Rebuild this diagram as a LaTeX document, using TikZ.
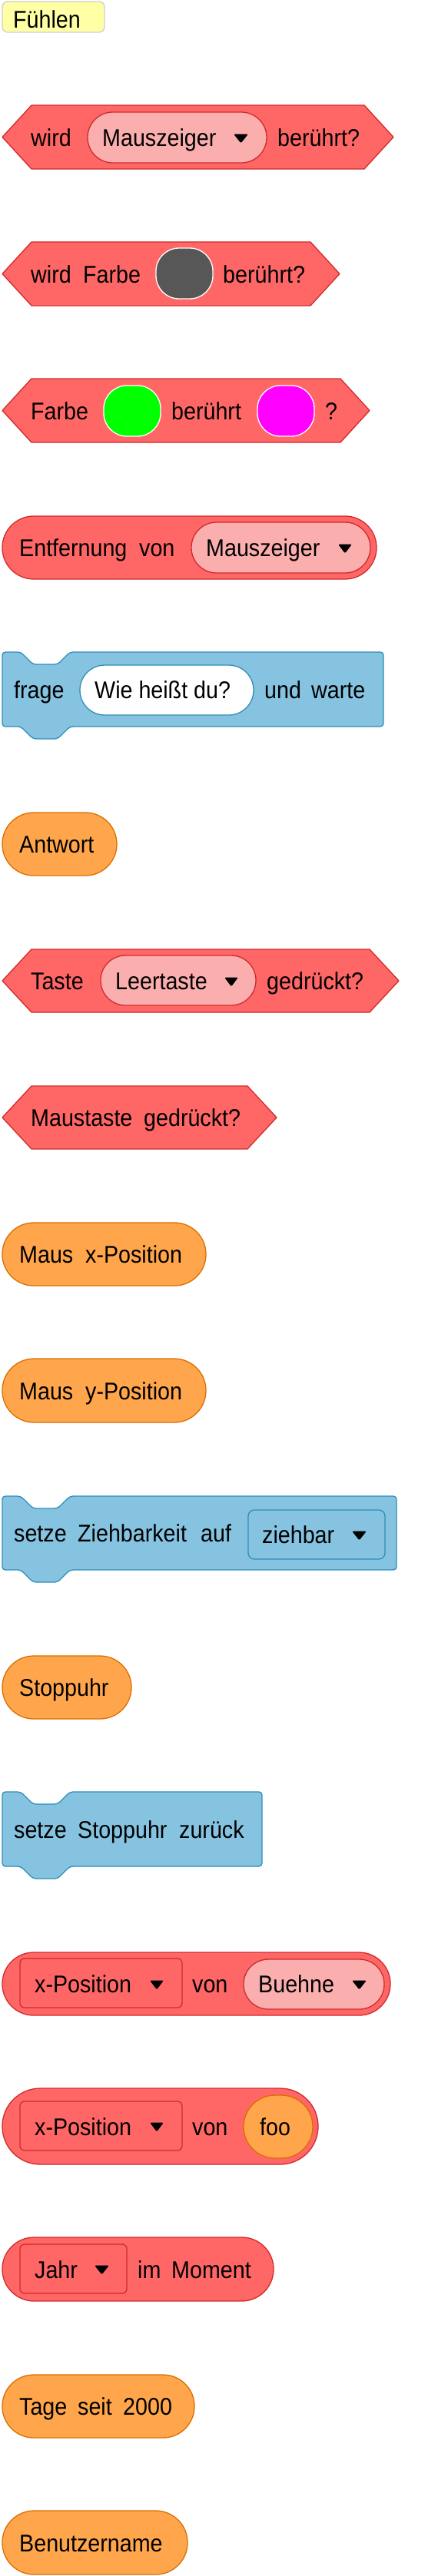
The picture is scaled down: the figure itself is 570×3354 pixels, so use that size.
\documentclass[tikz,border=0pt]{standalone}
\usepackage{fontspec}
\setmainfont[FakeStretch=0.91]{Liberation Sans}
\newcommand\blk{\fontsize{31.5}{36}\selectfont}
\definecolor{redfill}{HTML}{FF6666}
\definecolor{redline}{HTML}{D12B2B}
\definecolor{pinkfill}{HTML}{FBAEAE}
\definecolor{bluefill}{HTML}{85C3E0}
\definecolor{blueline}{HTML}{2E8EB8}
\definecolor{orangefill}{HTML}{FFA64C}
\definecolor{orangeline}{HTML}{DB6E00}
\definecolor{yellowfill}{HTML}{FFFFA5}
\definecolor{greyline}{HTML}{CFCFCF}
\definecolor{darkoval}{HTML}{575757}
\definecolor{puregreen}{HTML}{00FF00}
\definecolor{puremagenta}{HTML}{FF00FF}
\tikzset{
  redblk/.style={fill=redfill, draw=redline, line width=1.3pt, line join=round},
  pinkin/.style={fill=pinkfill, draw=redline, line width=1.3pt},
  redin/.style={fill=redfill, draw=redline, line width=1.3pt},
  blueblk/.style={fill=bluefill, draw=blueline, line width=1.3pt},
  bluein/.style={fill=bluefill, draw=blueline, line width=1.3pt},
  whitein/.style={fill=white, draw=blueline, line width=1.3pt},
  orangeblk/.style={fill=orangefill, draw=orangeline, line width=1.3pt},
  colorin/.style={draw=white, line width=1.3pt},
  catbox/.style={fill=yellowfill, draw=greyline, line width=1.3pt},
  lbl/.style={anchor=base west, inner sep=0pt, font=\blk},
  ddarrow/.style={fill=black, rounded corners=1.5pt},
}
% boolean hexagon: x0 x1 top bottom
\newcommand\hexblk[4]{\draw[redblk] (#1,{(#3+#4)/2}) -- (#1+38,#3) -- (#2-38,#3) -- (#2,{(#3+#4)/2}) -- (#2-38,#4) -- (#1+38,#4) -- cycle;}
% rounded box: style x0 x1 top bottom radius
\newcommand\rbox[6]{\draw[#1, rounded corners=#6pt] (#2,#4) rectangle (#3,#5);}
% command block: x0 x1 top bottom
\newcommand\cmdblk[4]{\draw[blueblk, rounded corners=4pt] (#1,#3) -- (#1+24,#3) -- (#1+40,#3+16) -- (#1+72,#3+16) -- (#1+88,#3) -- (#2,#3) -- (#2,#4) -- (#1+88,#4) -- (#1+72,#4+16) -- (#1+40,#4+16) -- (#1+24,#4) -- (#1,#4) -- cycle;}
% dropdown arrow: xL xR centre
\newcommand\ddtri[3]{\fill[ddarrow] (#1,#3-4.5) -- (#2,#3-4.5) -- ({(#1+#2)/2},#3+7.5) -- cycle;}
\begin{document}
\begin{tikzpicture}[x=1pt,y=-1pt]
\useasboundingbox (0,0) rectangle (570,3354);

% Fühlen
\rbox{catbox}{3}{136}{2}{42}{7}
\node[lbl] (fuehlen) at (17,36) {Fühlen};

% wird Mauszeiger berührt?
\hexblk{3}{512}{137}{220}
\rbox{pinkin}{114}{347}{146}{212}{32.8}
\node[lbl] (b1a) at (40,190) {wird};
\node[lbl] (b1b) at (133,190) {Mauszeiger};
\ddtri{304}{323}{179}
\node[lbl] (b1c) at (361,190) {berührt?};

% wird Farbe () berührt?
\hexblk{3}{442}{315}{398}
\rbox{colorin, fill=darkoval}{203}{277}{323}{389}{30}
\node[lbl] (b2a) at (40,368) {wird};
\node[lbl] (b2b) at (108,368) {Farbe};
\node[lbl] (b2c) at (290,368) {berührt?};

% Farbe () berührt () ?
\hexblk{3}{481}{493}{576}
\rbox{colorin, fill=puregreen}{135}{209}{502}{568}{30}
\rbox{colorin, fill=puremagenta}{335}{409}{502}{568}{30}
\node[lbl] (b3a) at (40,546) {Farbe};
\node[lbl] (b3b) at (223,546) {berührt};
\node[lbl] (b3c) at (423,546) {?};

% Entfernung von Mauszeiger
\rbox{redblk}{3}{490}{672}{754}{40.8}
\rbox{pinkin}{249}{482}{680}{746}{32.8}
\node[lbl] (b4a) at (25,724.5) {Entfernung};
\node[lbl] (b4b) at (181,724.5) {von};
\node[lbl] (b4c) at (268,724.5) {Mauszeiger};
\ddtri{440}{458}{713}

% frage () und warte
\cmdblk{3}{499}{849}{946}
\rbox{whitein}{104}{330}{866}{931}{32.3}
\node[lbl] (b5a) at (18,909) {frage};
\node[lbl] (b5b) at (123,909) {Wie heißt du?};
\node[lbl] (b5c) at (344,909) {und};
\node[lbl] (b5d) at (405,909) {warte};

% Antwort
\rbox{orangeblk}{3}{152}{1058}{1140}{40.8}
\node[lbl] (b6a) at (25,1110.5) {Antwort};

% Taste Leertaste gedrückt?
\hexblk{3}{519}{1236}{1318}
\rbox{pinkin}{131}{333}{1244}{1309}{32.3}
\node[lbl] (b7a) at (40,1288.5) {Taste};
\node[lbl] (b7b) at (150,1288.5) {Leertaste};
\ddtri{292}{310}{1277}
\node[lbl] (b7c) at (347,1288.5) {gedrückt?};

% Maustaste gedrückt?
\hexblk{3}{360}{1414}{1496}
\node[lbl] (b8a) at (40,1466.5) {Maustaste};
\node[lbl] (b8b) at (187,1466.5) {gedrückt?};

% Maus x-Position
\rbox{orangeblk}{3}{268}{1592}{1674}{40.8}
\node[lbl] (b9a) at (25,1644.5) {Maus};
\node[lbl] (b9b) at (111,1644.5) {x-Position};

% Maus y-Position
\rbox{orangeblk}{3}{268}{1769}{1852}{41.3}
\node[lbl] (b10a) at (25,1822) {Maus};
\node[lbl] (b10b) at (111,1822) {y-Position};

% setze Ziehbarkeit auf ziehbar
\cmdblk{3}{516}{1948}{2044}
\rbox{bluein}{323}{501}{1966}{2030}{8}
\node[lbl] (b11a) at (18,2007.5) {setze};
\node[lbl] (b11b) at (101,2007.5) {Ziehbarkeit};
\node[lbl] (b11c) at (261,2007.5) {auf};
\node[lbl] (b11d) at (341,2009.5) {ziehbar};
\ddtri{458}{477}{1998}

% Stoppuhr
\rbox{orangeblk}{3}{171}{2156}{2238}{40.8}
\node[lbl] (b12a) at (25,2208.5) {Stoppuhr};

% setze Stoppuhr zurück
\cmdblk{3}{341}{2333}{2430}
\node[lbl] (b13a) at (18,2393) {setze};
\node[lbl] (b13b) at (101,2393) {Stoppuhr};
\node[lbl] (b13c) at (233,2393) {zurück};

% x-Position von Buehne
\rbox{redblk}{3}{508}{2542}{2624}{40.8}
\rbox{redin}{26}{237}{2550}{2614}{6}
\rbox{pinkin}{317}{500}{2551}{2616}{32.3}
\node[lbl] (b14a) at (45,2594.5) {x-Position};
\ddtri{195}{213}{2583}
\node[lbl] (b14b) at (250,2594.5) {von};
\node[lbl] (b14c) at (336,2594.5) {Buehne};
\ddtri{458}{477}{2583}

% x-Position von foo
\rbox{redblk}{3}{414}{2719}{2818}{49.3}
\rbox{redin}{26}{237}{2736}{2800}{6}
\rbox{orangeblk}{317}{407}{2728}{2810}{40.8}
\node[lbl] (b15a) at (45,2780) {x-Position};
\ddtri{195}{213}{2768}
\node[lbl] (b15b) at (250,2780) {von};
\node[lbl] (b15c) at (338,2780) {foo};

% Jahr im Moment
\rbox{redblk}{3}{356}{2913}{2996}{41.3}
\rbox{redin}{26}{165}{2922}{2986}{6}
\node[lbl] (b16a) at (45,2966) {Jahr};
\ddtri{123}{142}{2954}
\node[lbl] (b16b) at (179,2966) {im};
\node[lbl] (b16c) at (223,2966) {Moment};

% Tage seit 2000
\rbox{orangeblk}{3}{253}{3092}{3174}{40.8}
\node[lbl] (b17a) at (25,3144.5) {Tage};
\node[lbl] (b17b) at (101,3144.5) {seit};
\node[lbl] (b17c) at (160,3144.5) {2000};

% Benutzername
\rbox{orangeblk}{3}{244}{3269}{3352}{41.3}
\node[lbl] (b18a) at (25,3322) {Benutzername};

\end{tikzpicture}
\end{document}
